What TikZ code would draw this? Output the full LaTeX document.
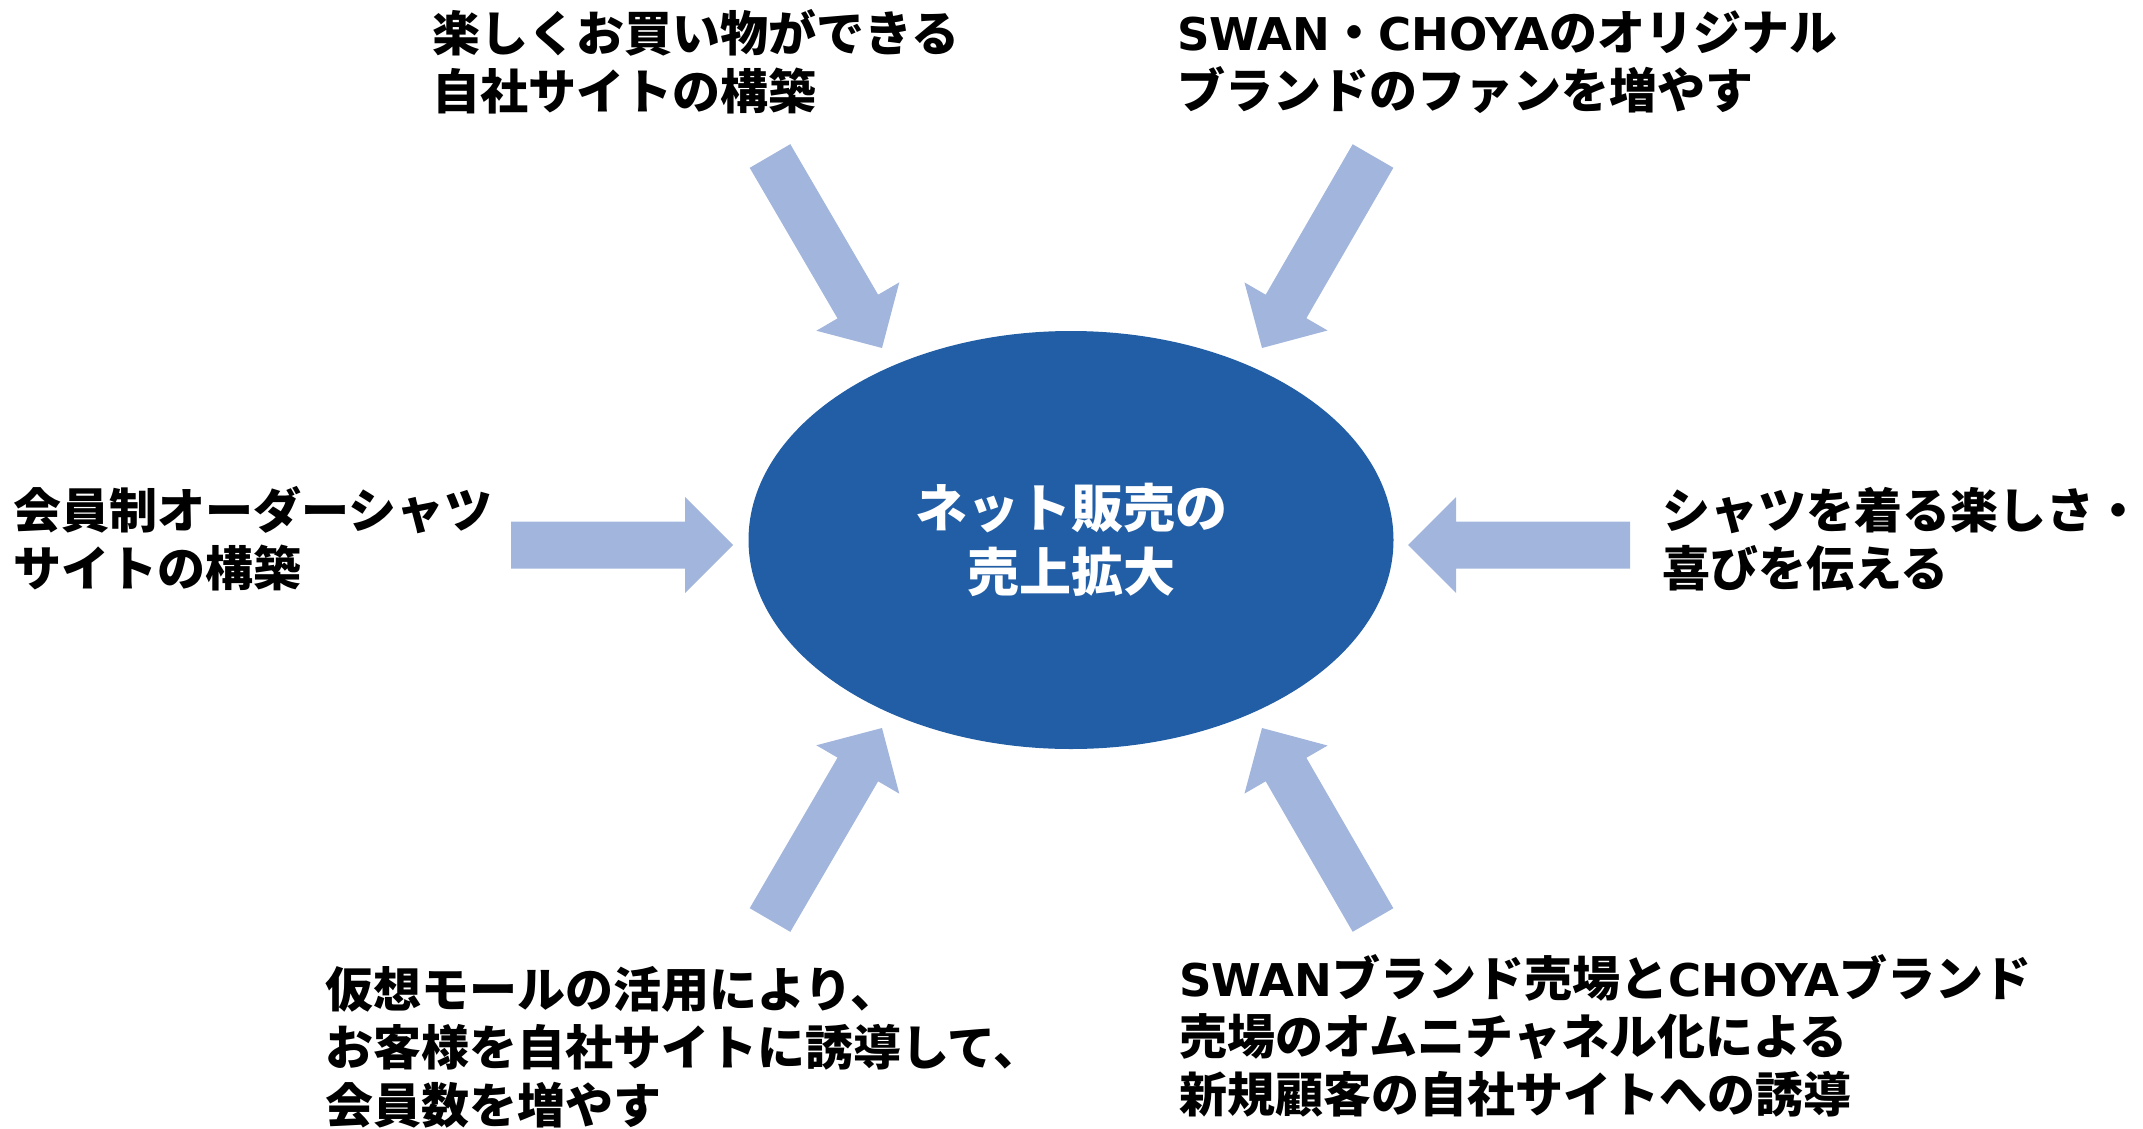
\documentclass[tikz,border=0pt]{standalone}
\usepackage{fontspec}
\usepackage{tikz}
\usetikzlibrary{calc, positioning, shapes.geometric}

\newfontfamily\jpfont{Noto Sans CJK JP}
\newfontfamily\latfont{DejaVu Sans}[Scale=0.94]
\newcommand{\lat}[1]{{\latfont\bfseries #1}}
\definecolor{ovalblue}{RGB}{33,94,166}
\definecolor{arrowblue}{RGB}{162,181,220}

% broad block arrow from #1 (tail) to #2 (tip)
\newcommand{\fatarrow}[2]{%
  \coordinate (#1-base) at ($(#2)!48pt!(#1)$);
  \fill[arrowblue] ($(#1)!23.5pt!90:(#2)$) -- ($(#1-base)!23.5pt!90:(#2)$)
    -- ($(#1-base)!48pt!90:(#2)$) -- (#2)
    -- ($(#1-base)!48pt!-90:(#2)$) -- ($(#1-base)!23.5pt!-90:(#2)$)
    -- ($(#1)!23.5pt!-90:(#2)$) -- cycle;}

\begin{document}
\begin{tikzpicture}[x=1pt, y=-1pt,
    idea/.style={anchor=west, align=left, inner sep=0pt,
      font=\jpfont\bfseries\fontsize{48}{58}\selectfont}]
    \useasboundingbox (0,0) rectangle (2143,1129);

    % Nodes
    \node (goal) [ellipse, fill=ovalblue, minimum width=645pt, minimum height=418pt,
      inner sep=0pt, align=center, text=white,
      font=\jpfont\bfseries\fontsize{52}{64}\selectfont] at (1071,540) {ネット販売の\\売上拡大};
    \node (shop) [idea] at (432,62) {楽しくお買い物ができる\\自社サイトの構築};
    \node (fans) [idea] at (1177,62) {\lat{SWAN}・\lat{CHOYA}のオリジナル\\ブランドのファンを増やす};
    \node (order) [idea] at (13,539) {会員制オーダーシャツ\\サイトの構築};
    \node (joy) [idea] at (1662,539) {シャツを着る楽しさ・\\喜びを伝える};
    \node (mall) [idea] at (325,1047) {仮想モールの活用により、\\お客様を自社サイトに誘導して、\\会員数を増やす};
    \node (omni) [idea] at (1179,1036) {\lat{SWAN}ブランド売場と\lat{CHOYA}ブランド\\売場のオムニチャネル化による\\新規顧客の自社サイトへの誘導};

    % Arrows
    \coordinate (tl) at (770,156);   \coordinate (tl-tip) at (882,348);
    \coordinate (tr) at (1373,156);  \coordinate (tr-tip) at (1262,348);
    \coordinate (ml) at (511,545);   \coordinate (ml-tip) at (733,545);
    \coordinate (mr) at (1630,545);  \coordinate (mr-tip) at (1408,545);
    \coordinate (bl) at (770,920);   \coordinate (bl-tip) at (882,728);
    \coordinate (br) at (1373,920);  \coordinate (br-tip) at (1262,728);
    \fatarrow{tl}{tl-tip}
    \fatarrow{tr}{tr-tip}
    \fatarrow{ml}{ml-tip}
    \fatarrow{mr}{mr-tip}
    \fatarrow{bl}{bl-tip}
    \fatarrow{br}{br-tip}
\end{tikzpicture}
\end{document}
